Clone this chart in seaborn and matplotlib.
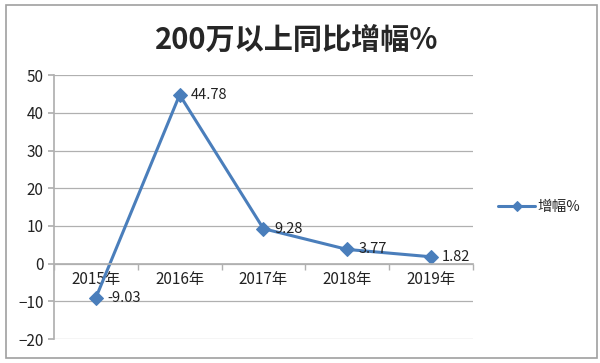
import seaborn as sns
import matplotlib.pyplot as plt
import pandas as pd
from matplotlib.ticker import MultipleLocator

years = ['2015年', '2016年', '2017年', '2018年', '2019年']
growth = [-9.03, 44.78, 9.28, 3.77, 1.82]
series_name = '增幅%'
title = '200万以上同比增幅%'

sns.set_theme(style="white")
plt.rcParams['font.family'] = ['Noto Sans CJK SC', 'DejaVu Sans']

df = pd.DataFrame({'year': years, 'value': growth})
blue = '#4A7EBB'
grid_c = '#B0B0B0'

fig = plt.figure(figsize=(6, 3.63), dpi=100)
ax = fig.add_axes([0.09, 0.066, 0.698, 0.727])

sns.lineplot(data=df, x='year', y='value', ax=ax, color=blue, linewidth=2.2,
             marker='D', markersize=7, markeredgecolor=blue, label=series_name,
             sort=False)

for i, v in enumerate(growth):
    ax.annotate(f'{v:.2f}', (i, v), xytext=(8, 0), textcoords='offset points',
                ha='left', va='center', fontsize=10.5, color='#222222')

ax.set_xlim(-0.5, len(years) - 0.5)
ax.set_ylim(-20, 50)
ax.yaxis.set_major_locator(MultipleLocator(10))
ax.grid(axis='y', color=grid_c, linewidth=0.9)
ax.set_axisbelow(True)

for s in ['top', 'right']:
    ax.spines[s].set_visible(False)
ax.spines['left'].set_color(grid_c)
ax.spines['bottom'].set_color(grid_c)
ax.spines['bottom'].set_position(('data', 0))

ax.set_xticks(range(len(years)))
ax.set_xticklabels(years)
ax.set_xticks([i + 0.5 for i in range(-1, len(years))], minor=True)
ax.tick_params(axis='x', which='major', length=0, pad=5, labelsize=11, labelcolor='#222222')
ax.tick_params(axis='x', which='minor', length=4, color=grid_c, direction='out', bottom=True)
ax.tick_params(axis='y', length=4, color=grid_c, direction='out', left=True,
               labelsize=11, labelcolor='#222222')
ax.set_xlabel('')
ax.set_ylabel('')

ax.legend(loc='center left', bbox_to_anchor=(1.03, 0.5), frameon=False,
          fontsize=10.5, handlelength=2.5, handletextpad=0.2, markerscale=0.7)

fig.text(0.495, 0.89, title, ha='center', va='center', fontsize=21, fontweight='bold')

border = plt.Rectangle((0.01, 0.015), 0.985, 0.972, transform=fig.transFigure,
                       fill=False, edgecolor='#A0A0A0', linewidth=1.2)
fig.patches.append(border)

fig.savefig('out.png', dpi=100)
